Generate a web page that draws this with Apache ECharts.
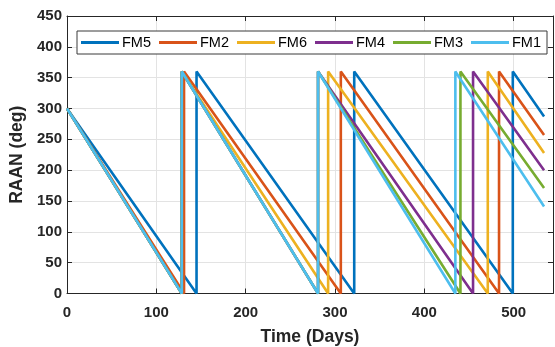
<!DOCTYPE html>
<html>
<head>
<meta charset="utf-8">
<script src="https://cdn.jsdelivr.net/npm/echarts@6/dist/echarts.min.js"></script>
<style>
html,body{margin:0;padding:0;background:#fff;overflow:hidden;}
#c{width:555px;height:347px;}
</style>
</head>
<body>
<div id="c"></div>
<script>
// ---- data ----
var seriesNames = ['FM5', 'FM2', 'FM6', 'FM4', 'FM3', 'FM1'];
var FM5_t = [0, 145, 145, 321.5, 321.5, 499, 499, 534];
var FM5_v = [300, 0, 360, 0, 360, 0, 360, 287];
var FM2_t = [0, 131, 131, 306.5, 306.5, 483.6, 483.6, 534];
var FM2_v = [300, 0, 360, 0, 360, 0, 360, 257];
var FM6_t = [0, 128.5, 128.5, 292.3, 292.3, 471, 471, 534];
var FM6_v = [300, 0, 360, 0, 360, 0, 360, 228];
var FM4_t = [0, 128.5, 128.5, 281, 281, 454.5, 454.5, 534];
var FM4_v = [300, 0, 360, 0, 360, 0, 360, 200];
var FM3_t = [0, 128.5, 128.5, 281, 281, 440.4, 440.4, 534];
var FM3_v = [300, 0, 360, 0, 360, 0, 360, 171];
var FM1_t = [0, 128.5, 128.5, 281, 281, 434.7, 434.7, 534];
var FM1_v = [300, 0, 360, 0, 360, 0, 360, 141];
var xTicks = [0, 100, 200, 300, 400, 500];
var yTicks = [0, 50, 100, 150, 200, 250, 300, 350, 400, 450];

var seriesT = [FM5_t, FM2_t, FM6_t, FM4_t, FM3_t, FM1_t];
var seriesV = [FM5_v, FM2_v, FM6_v, FM4_v, FM3_v, FM1_v];
var colors = ['#0072BD', '#D95319', '#EDB120', '#7E2F8E', '#77AC30', '#4DBEEE'];

var FONT = "'Liberation Sans', Arial, Helvetica, sans-serif";
var AX = '#262626';

function pairs(t, v) { return t.map(function (x, i) { return [x, v[i]]; }); }

var series = seriesNames.map(function (n, i) {
  return {
    name: n, type: 'line', data: pairs(seriesT[i], seriesV[i]),
    symbol: 'none', showSymbol: false, animation: false,
    lineStyle: { color: colors[i], width: 2.6 },
    itemStyle: { color: colors[i] },
    xAxisIndex: 0, yAxisIndex: 0, z: 2 + i
  };
});

function xLab(v) { return xTicks.indexOf(v) >= 0 ? String(v) : ''; }
function yLab(v) { return yTicks.indexOf(v) >= 0 ? String(v) : ''; }

var chart = echarts.init(document.getElementById('c'), null, { renderer: 'canvas' });
chart.setOption({
  animation: false,
  color: colors,
  textStyle: { fontFamily: FONT },
  grid: { left: 67, right: 2, top: 16, bottom: 53.5, containLabel: false, outerBoundsMode: 'none' },
  legend: {
    data: seriesNames,
    left: 77, top: 31, width: 476,
    icon: 'rect', itemWidth: 38, itemHeight: 3, itemGap: 8,
    padding: [4, 6, 4, 4],
    borderColor: '#3a3a3a', borderWidth: 1, backgroundColor: '#fff',
    textStyle: { fontFamily: FONT, fontSize: 14.5, color: '#000', padding: [0, 0, 0, -2] }
  },
  xAxis: [{
    type: 'value', min: 0, max: 544, interval: 100, position: 'bottom',
    name: 'Time (Days)', nameLocation: 'middle', nameGap: 35,
    nameTextStyle: { fontFamily: FONT, fontSize: 17.5, fontWeight: 'bold', color: AX },
    axisLine: { show: true, lineStyle: { color: AX, width: 1 } },
    axisTick: { show: true, inside: true, length: 5, lineStyle: { color: AX } },
    axisLabel: { fontFamily: FONT, fontSize: 15, fontWeight: 'bold', color: AX, margin: 12, formatter: xLab, showMaxLabel: false },
    splitLine: { show: true, lineStyle: { color: '#e3e3e3', width: 1 } }
  }, {
    type: 'value', min: 0, max: 544, interval: 100, position: 'top',
    axisLine: { show: true, onZero: false, lineStyle: { color: AX, width: 1 } },
    axisTick: { show: true, inside: true, length: 5, lineStyle: { color: AX } },
    axisLabel: { show: false }, splitLine: { show: false }
  }],
  yAxis: [{
    type: 'value', min: 0, max: 450, interval: 50, position: 'left',
    name: 'RAAN (deg)', nameLocation: 'middle', nameGap: 39,
    nameTextStyle: { fontFamily: FONT, fontSize: 17.5, fontWeight: 'bold', color: AX },
    axisLine: { show: true, lineStyle: { color: AX, width: 1 } },
    axisTick: { show: true, inside: true, length: 5, lineStyle: { color: AX } },
    axisLabel: { fontFamily: FONT, fontSize: 15, fontWeight: 'bold', color: AX, margin: 5, formatter: yLab },
    splitLine: { show: true, lineStyle: { color: '#e3e3e3', width: 1 } }
  }, {
    type: 'value', min: 0, max: 450, interval: 50, position: 'right',
    axisLine: { show: true, onZero: false, lineStyle: { color: AX, width: 1 } },
    axisTick: { show: true, inside: true, length: 5, lineStyle: { color: AX } },
    axisLabel: { show: false }, splitLine: { show: false }
  }],
  series: series
});
</script>
</body>
</html>
